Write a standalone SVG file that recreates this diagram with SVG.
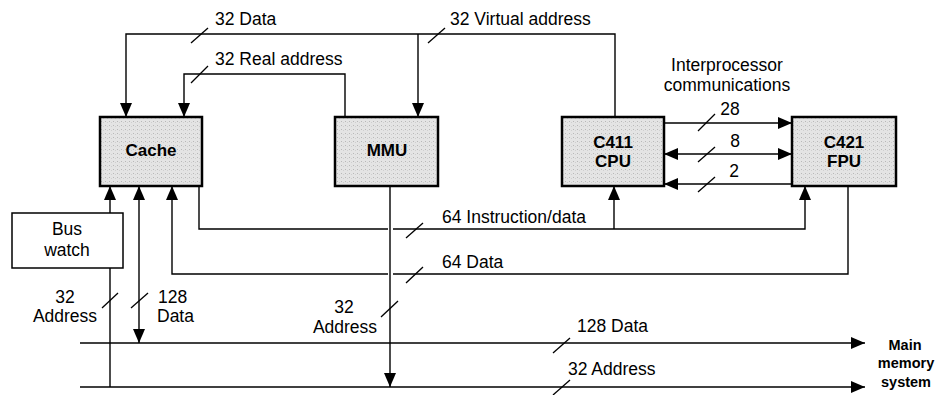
<svg xmlns="http://www.w3.org/2000/svg" width="937" height="395" viewBox="0 0 937 395">
<defs>
<marker id="arr" markerUnits="userSpaceOnUse" markerWidth="14" markerHeight="12" refX="14" refY="6" orient="auto-start-reverse" viewBox="0 0 14 12">
<path d="M0,0 L14,6 L0,12 z" fill="#000"/>
</marker>
<pattern id="stip" width="4" height="4" patternUnits="userSpaceOnUse">
<rect width="4" height="4" fill="#e4e4e4"/>
<rect x="1" y="1" width="1" height="1" fill="#b8b8b8"/>
<rect x="3" y="2" width="1" height="1" fill="#cfcfcf"/>
</pattern>
</defs>
<style>
text{font-family:"Liberation Sans",Arial,sans-serif;font-size:17.5px;fill:#000}
.b{font-weight:bold;font-size:17px}
.mm{font-weight:bold;font-size:14.5px}
.m{text-anchor:middle}
.box{fill:url(#stip);stroke:#000;stroke-width:2.5}
.bw{fill:#fff;stroke:#000;stroke-width:1.5}
.ln{fill:none;stroke:#000;stroke-width:1.4}
.ar{marker-end:url(#arr)}
.ar2{marker-start:url(#arr);marker-end:url(#arr)}
.sl{stroke:#000;stroke-width:1.3}
</style>
<g id="connectors">
<path class="ln ar" d="M615,117 V34 H126 V117"/>
<path class="ln ar" d="M418,34 V117"/>
<path class="ln ar" d="M345,117 V74 H184 V117"/>
<path class="ln ar" d="M110,213 V186"/>
<path class="ln" d="M110,268 V387"/>
<path class="ln ar2" d="M139,343 V186"/>
<path class="ln" d="M848,186 V274 H393"/>
<path class="ln ar" d="M388,274 H172 V186"/>
<path class="ln" d="M199,186 V229 H388"/>
<path class="ln ar" d="M393,229 H805 V186"/>
<path class="ln ar" d="M614,229 V186"/>
<path class="ln ar" d="M390,186 V387"/>
<path class="ln ar" d="M664,123 H792"/>
<path class="ln ar2" d="M664,154 H792"/>
<path class="ln ar" d="M792,184 H664"/>
<path class="ln ar" d="M80,343 H865"/>
<path class="ln ar" d="M80,387 H865"/>
<g class="sl">
<line x1="191" y1="43" x2="208" y2="28"/>
<line x1="428" y1="43" x2="445" y2="28"/>
<line x1="191" y1="83" x2="208" y2="66"/>
<line x1="698" y1="131" x2="715" y2="114"/>
<line x1="698" y1="162" x2="715" y2="147"/>
<line x1="698" y1="192" x2="715" y2="177"/>
<line x1="406" y1="238" x2="423" y2="223"/>
<line x1="406" y1="283" x2="423" y2="267"/>
<line x1="102" y1="308" x2="118" y2="293"/>
<line x1="131" y1="308" x2="148" y2="293"/>
<line x1="381" y1="317" x2="398" y2="301"/>
<line x1="553" y1="353" x2="570" y2="338"/>
<line x1="553" y1="395" x2="570" y2="380"/>
</g>
</g>
<g id="cache"><rect class="box" x="100" y="117" width="102" height="69"/><text class="b m" x="151" y="156">Cache</text></g>
<g id="mmu"><rect class="box" x="335" y="117" width="103" height="69"/><text class="b m" x="387" y="156">MMU</text></g>
<g id="cpu"><rect class="box" x="562" y="117" width="102" height="69"/><text class="b m" x="613" y="148">C411</text><text class="b m" x="613" y="167">CPU</text></g>
<g id="fpu"><rect class="box" x="792" y="117" width="104" height="69"/><text class="b m" x="844" y="148">C421</text><text class="b m" x="844" y="167">FPU</text></g>
<g id="buswatch"><rect class="bw" x="12" y="213" width="111" height="55"/><text class="m" x="67" y="235">Bus</text><text class="m" x="67" y="256">watch</text></g>
<g id="mainmem"><text class="mm m" x="905" y="350">Main</text><text class="mm m" x="906" y="368">memory</text><text class="mm m" x="906" y="387">system</text></g>
<g id="labels">
<text x="215" y="25">32 Data</text>
<text x="450" y="25">32 Virtual address</text>
<text x="215" y="65">32 Real address</text>
<text class="m" x="727" y="71">Interprocessor</text>
<text class="m" x="727" y="91">communications</text>
<text class="m" x="730" y="115">28</text>
<text class="m" x="735" y="147">8</text>
<text class="m" x="734" y="177">2</text>
<text class="m" x="65" y="303">32</text>
<text class="m" x="65" y="322">Address</text>
<text x="158" y="303">128</text>
<text x="157" y="322">Data</text>
<text class="m" x="344" y="313">32</text>
<text class="m" x="345" y="333">Address</text>
<text x="442" y="223">64 Instruction/data</text>
<text x="442" y="268">64 Data</text>
<text x="577" y="332">128 Data</text>
<text x="568" y="375">32 Address</text>
</g>
</svg>
